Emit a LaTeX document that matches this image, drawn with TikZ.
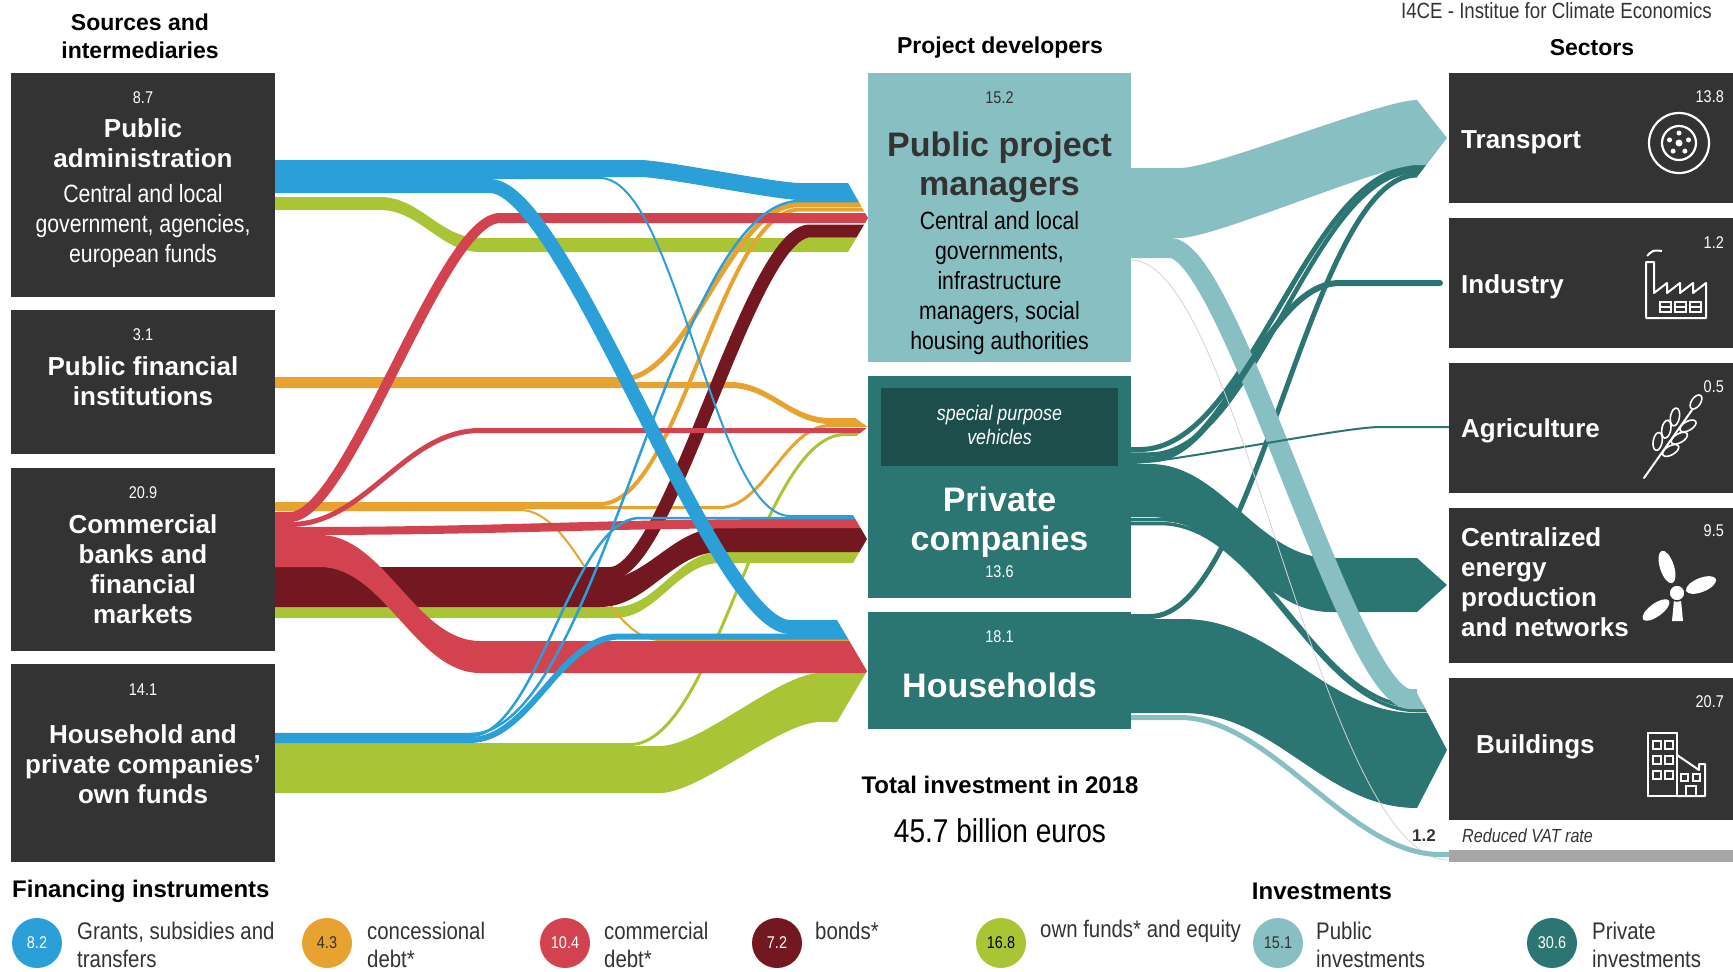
\documentclass[tikz,border=0pt]{standalone}
\usepackage{fontspec}
\setmainfont{Liberation Sans}
\newfontfamily\narrowf{Liberation Sans}[FakeStretch=0.85]
\usepackage{tikz}
\definecolor{grantblue}{HTML}{2A9FD8}
\definecolor{concorange}{HTML}{E8A230}
\definecolor{commred}{HTML}{D2434F}
\definecolor{bondred}{HTML}{731820}
\definecolor{ownfund}{HTML}{A9C536}
\definecolor{pubteal}{HTML}{88BFC2}
\definecolor{privteal}{HTML}{2B7572}
\definecolor{spvteal}{HTML}{1E4E4C}
\definecolor{boxgrey}{HTML}{333333}
\definecolor{vatgrey}{HTML}{A6A6A6}
\tikzstyle{Src}=[rectangle, fill=boxgrey, minimum width=264pt, inner sep=0pt]
\tikzstyle{Dev}=[rectangle, minimum width=263pt, inner sep=0pt]
\tikzstyle{Sec}=[rectangle, fill=boxgrey, minimum width=284pt, inner sep=0pt]
\tikzstyle{Num}=[text=white, font=\narrowf\fontsize{17}{20}\selectfont, inner sep=0pt]
\tikzstyle{Ttl}=[text=white, align=center, font=\bfseries\fontsize{26}{30}\selectfont, inner sep=0pt]
\tikzstyle{Sub}=[text=white, align=center, font=\narrowf\fontsize{25}{30}\selectfont, inner sep=0pt]
\tikzstyle{Big}=[text=white, align=center, font=\bfseries\fontsize{34}{39}\selectfont, inner sep=0pt]
\tikzstyle{Head}=[align=center, font=\bfseries\fontsize{23}{28}\selectfont, inner sep=0pt]
\tikzstyle{SecTtl}=[text=white, align=left, anchor=west, font=\bfseries\fontsize{26}{30}\selectfont, inner sep=0pt]
\tikzstyle{Dot}=[circle, minimum size=50pt, inner sep=0pt, font=\narrowf\fontsize{17}{20}\selectfont]
\tikzstyle{Key}=[anchor=west, align=left, font=\narrowf\fontsize{24}{28}\selectfont, inner sep=0pt, text=boxgrey]
% flow band: colour, x start, top, bottom, bend start, bend end, new top, new bottom, x end
\newcommand{\bendk}{0.4}
\newcommand{\band}[9]{%
  \pgfmathsetmacro\bca{#5+\bendk*(#6-#5)}%
  \pgfmathsetmacro\bcb{#6-\bendk*(#6-#5)}%
  \fill[#1] (#2,#3) -- (#5,#3) .. controls (\bca,#3) and (\bcb,#7) .. (#6,#7) -- (#9,#7)
    -- (#9,#8) -- (#6,#8) .. controls (\bcb,#8) and (\bca,#4) .. (#5,#4) -- (#2,#4) -- cycle;}
% steep stream: colour, width, x start, y, bend start, bend end, new y, x end
\newcommand{\stream}[8]{%
  \pgfmathsetmacro\bca{#5+\bendk*(#6-#5)}%
  \pgfmathsetmacro\bcb{#6-\bendk*(#6-#5)}%
  \draw[#1, line width=#2pt] (#3,#4) -- (#5,#4) .. controls (\bca,#4) and (\bcb,#7) .. (#6,#7) -- (#8,#7);}

\begin{document}
\begin{tikzpicture}[x=1pt, y=-1pt]
    \useasboundingbox (0,0) rectangle (1733,972);

    % financing flows
    \begin{scope}
    \clip (0,0) -- (837,0) -- (837,972) -- (0,972) -- cycle
      (836,183) -- (848,183) -- (868,218) -- (848,252) -- (836,252) -- cycle
      (836,418) -- (855,418) -- (868,427) -- (855,437) -- (836,437) -- cycle
      (836,515) -- (853,515) -- (867,539) -- (853,563) -- (836,563) -- cycle
      (836,620) -- (837,620) -- (867,671) -- (837,722) -- (836,722) -- cycle;
    \band{ownfund}{270}{197}{210}{380}{480}{238}{252}{870}
    \band{ownfund}{270}{607}{618}{615}{720}{552}{563}{870}
    \stream{ownfund}{3}{270}{744.5}{630}{845}{434.5}{870}
    \renewcommand{\bendk}{0.25}
    \band{ownfund}{270}{746}{793}{660}{820}{673}{722}{870}
    \renewcommand{\bendk}{0.4}
    \band{concorange}{270}{382}{388}{730}{830}{418}{424}{870}
    \stream{concorange}{5}{270}{379.5}{620}{800}{204.5}{870}
    \stream{concorange}{4}{270}{504}{600}{800}{209.5}{870}
    \stream{concorange}{3}{270}{507.5}{720}{830}{425.5}{870}
    \stream{concorange}{2}{270}{510}{520}{660}{640}{870}
    \band{bondred}{270}{580}{607}{600}{720}{528}{552}{870}
    \renewcommand{\bendk}{0.3}
    \stream{bondred}{13}{270}{573.5}{610}{810}{231}{870}
    \renewcommand{\bendk}{0.4}
    \band{commred}{270}{527}{535}{300}{800}{519}{528}{870}
    \band{commred}{270}{535}{567}{320}{480}{641}{673}{870}
    \stream{commred}{5}{270}{524.5}{290}{480}{430.5}{870}
    \renewcommand{\bendk}{0.28}
    \stream{commred}{10}{270}{517}{290}{500}{218}{870}
    \renewcommand{\bendk}{0.4}
    \stream{grantblue}{2}{270}{178}{600}{790}{516}{870}
    \stream{grantblue}{2.5}{270}{734}{470}{800}{201}{870}
    \stream{grantblue}{2.5}{270}{736}{470}{640}{518}{870}
    \stream{grantblue}{6}{270}{740}{470}{620}{636.5}{870}
    \renewcommand{\bendk}{0.25}
    \stream{grantblue}{14}{270}{186}{490}{790}{627}{870}
    \renewcommand{\bendk}{0.15}
    \band{grantblue}{270}{160}{177}{640}{800}{183}{200}{870}
    \end{scope}

    % investment flows
    \begin{scope}
    \clip (1120,0) -- (1417,0) -- (1417,972) -- (1120,972) -- cycle
      (1416,100) -- (1417,100) -- (1447,138) -- (1417,177) -- (1416,177) -- cycle
      (1416,558) -- (1417,558) -- (1447,585) -- (1417,612) -- (1416,612) -- cycle
      (1416,693) -- (1417,693) -- (1447,750) -- (1417,808) -- (1416,808) -- cycle;
    \renewcommand{\bendk}{0.4}
    \stream{privteal}{5}{1125}{449.5}{1140}{1417}{167}{1449}
    \stream{privteal}{4.5}{1125}{454.5}{1150}{1417}{171}{1449}
    \stream{privteal}{5}{1125}{616.5}{1150}{1417}{175}{1449}
    \band{privteal}{1125}{464}{517}{1150}{1330}{558}{612}{1449}
    \stream{privteal}{3.5}{1125}{519.5}{1160}{1417}{706.5}{1449}
    \stream{privteal}{3.5}{1125}{523.5}{1160}{1417}{710.5}{1449}
    \band{privteal}{1125}{619}{713}{1183}{1417}{713}{808}{1449}
    \renewcommand{\bendk}{0.25}
    \stream{pubteal}{20}{1125}{248}{1170}{1410}{699}{1449}
    \renewcommand{\bendk}{0.15}
    \band{pubteal}{1125}{168}{238}{1180}{1417}{100}{165}{1449}
    \end{scope}
    \renewcommand{\bendk}{0.4}
    \stream{privteal}{6}{1125}{459.5}{1150}{1340}{283}{1440}
    \fill[privteal] (1440,283) circle[radius=3pt];
    \renewcommand{\bendk}{0.15}
    \stream{privteal}{2}{1125}{463}{1131}{1380}{427}{1449}
    \renewcommand{\bendk}{0.35}
    \draw[vatgrey!50, line width=0.8pt] (1131,260) .. controls (1240,260) and (1320,860) .. (1449,860);
    \stream{pubteal}{5}{1125}{717.5}{1180}{1440}{854.5}{1449}

    % sources
    \path
    (143,185) node[Src, minimum height=224pt] (pa) {}
    (143,382) node[Src, minimum height=144pt] (pfi) {}
    (143,559.5) node[Src, minimum height=183pt] (cb) {}
    (143,763) node[Src, minimum height=198pt] (of) {};
    \path
    (140,36) node[Head] (srchead) {Sources and\\intermediaries}
    (143,98) node[Num] (panum) {8.7}
    (143,143) node[Ttl] (pattl) {Public\\administration}
    (143,226) node[Sub] (pasub) {Central and local\\government, agencies,\\european funds}
    (143,335) node[Num] (pfinum) {3.1}
    (143,381) node[Ttl] (pfittl) {Public financial\\institutions}
    (143,493) node[Num] (cbnum) {20.9}
    (143,569) node[Ttl] (cbttl) {Commercial\\banks and\\financial\\markets}
    (143,690) node[Num] (ofnum) {14.1}
    (143,764) node[Ttl] (ofttl) {Household and\\private companies'\\own funds};

    % project developers
    \path
    (999.5,217.5) node[Dev, fill=pubteal, minimum height=289pt] (ppm) {}
    (999.5,487) node[Dev, fill=privteal, minimum height=222pt] (pc) {}
    (999.5,427) node[rectangle, fill=spvteal, minimum width=237pt, minimum height=78pt] (spv) {}
    (999.5,670.5) node[Dev, fill=privteal, minimum height=117pt] (hh) {};
    \path
    (1000,48) node[Head] (devhead) {Project developers}
    (999.5,98) node[Num, text=boxgrey] (ppmnum) {15.2}
    (999.5,167) node[Big, text=boxgrey] (ppmttl) {Public project\\managers}
    (999.5,283) node[Sub, text=black] (ppmsub) {Central and local\\governments,\\infrastructure\\managers, social\\housing authorities}
    (999.5,425) node[Sub, font=\narrowf\itshape\fontsize{21}{24}\selectfont] (spvttl) {special purpose\\vehicles}
    (999.5,522) node[Big] (pcttl) {Private\\companies}
    (999.5,572) node[Num] (pcnum) {13.6}
    (999.5,637) node[Num] (hhnum) {18.1}
    (999.5,685) node[Big] (hhttl) {Households}
    (1000,785) node[Head, font=\bfseries\fontsize{24}{28}\selectfont] (total) {Total investment in 2018}
    (1000,831) node[font=\narrowf\fontsize{33}{36}\selectfont, inner sep=0pt] (amount) {45.7 billion euros};

    % sectors
    \path
    (1591,138) node[Sec, minimum height=130pt] (tr) {}
    (1591,283) node[Sec, minimum height=130pt] (ind) {}
    (1591,428) node[Sec, minimum height=130pt] (agr) {}
    (1591,585.5) node[Sec, minimum height=155pt] (en) {}
    (1591,749) node[Sec, minimum height=142pt] (bld) {};
    \fill[vatgrey] (1449,850) rectangle (1733,862);
    \path
    (1592,48) node[Head] (sechead) {Sectors}
    (1712,11) node[anchor=east, font=\narrowf\fontsize{22}{26}\selectfont, text=boxgrey, inner sep=0pt] (i4ce) {I4CE - Institue for Climate Economics}
    (1461,142) node[SecTtl] (trttl) {Transport}
    (1461,287) node[SecTtl] (indttl) {Industry}
    (1461,431) node[SecTtl] (agrttl) {Agriculture}
    (1461,582) node[SecTtl] (enttl) {Centralized\\energy\\production\\and networks}
    (1476,747) node[SecTtl] (bldttl) {Buildings}
    (1724,97) node[Num, anchor=east] (trnum) {13.8}
    (1724,243) node[Num, anchor=east] (indnum) {1.2}
    (1724,387) node[Num, anchor=east] (agrnum) {0.5}
    (1724,531) node[Num, anchor=east] (ennum) {9.5}
    (1724,702) node[Num, anchor=east] (bldnum) {20.7}
    (1436,836) node[anchor=east, font=\bfseries\fontsize{17}{20}\selectfont, text=boxgrey, inner sep=0pt] (vatnum) {1.2}
    (1462,836) node[anchor=west, font=\narrowf\itshape\fontsize{19}{22}\selectfont, text=boxgrey, inner sep=0pt] (vat) {Reduced VAT rate};

    % icons
    \draw[white, line width=2.2pt] (1679,143) circle[radius=30pt] (1679,143) circle[radius=17pt];
    \fill[white] (1679,143) circle[radius=3.5pt];
    \foreach \a in {18,90,162,234,306} \fill[white] (1679,143) ++(\a:10pt) circle[radius=2.5pt];
    \draw[white, line width=2pt, line join=round] (1646,318) -- (1646,262) -- (1654,262) -- (1654,293) -- (1667,283) -- (1667,293) -- (1680,283) -- (1680,293) -- (1693,283) -- (1693,293) -- (1706,283) -- (1706,318) -- cycle;
    \foreach \wx in {1660,1675,1690} \draw[white, line width=1.4pt] (\wx,302) rectangle ++(11,10) (\wx,307) -- ++(11,0);
    \draw[white, line width=2pt] (1647,256) .. controls (1653,250) .. (1662,251);
    \draw[white, line width=2pt, line cap=round] (1644,478) -- (1692,410);
    \foreach \t in {0.42,0.6,0.78} {
      \pgfmathsetmacro\gx{1644+48*\t}
      \pgfmathsetmacro\gy{478-68*\t}
      \draw[white, line width=1.6pt, rotate around={30:(\gx+6.5,\gy+1)}] (\gx+6.5,\gy+1) ellipse[x radius=9pt, y radius=4.5pt];
      \draw[white, line width=1.6pt, rotate around={80:(\gx-6.5,\gy-8)}] (\gx-6.5,\gy-8) ellipse[x radius=9pt, y radius=4.5pt];
    }
    \draw[white, line width=1.6pt, rotate around={55:(1696,402)}] (1696,402) ellipse[x radius=8pt, y radius=4.5pt];
    \fill[white, rotate around={18:(1667,567)}] (1667,567) ellipse[x radius=7pt, y radius=17pt];
    \fill[white, rotate around={22:(1701,585)}] (1701,585) ellipse[x radius=16pt, y radius=7pt];
    \fill[white, rotate around={36:(1656,610)}] (1656,610) ellipse[x radius=16pt, y radius=6.5pt];
    \fill[white] (1674,600) -- (1681,600) -- (1683,621) -- (1672,621) -- cycle;
    \filldraw[fill=white, draw=boxgrey, line width=1.5pt] (1677,593) circle[radius=8pt];
    \draw[white, line width=2pt] (1648,733) rectangle (1677,796);
    \foreach \wy in {741,756,771} \foreach \wx in {1653,1665} \draw[white, line width=1.4pt] (\wx,\wy) rectangle ++(8,8);
    \draw[white, line width=2pt, line join=round] (1677,755) -- (1699,770) -- (1699,764) -- (1705,764) -- (1705,796) -- (1677,796);
    \draw[white, line width=1.4pt] (1681,774) rectangle ++(7,7) (1693,774) rectangle ++(7,7);
    \draw[white, line width=1.6pt] (1686,796) -- (1686,786) -- (1696,786) -- (1696,796);

    % legend
    \path
    (12,891) node[anchor=west, font=\bfseries\fontsize{24}{28}\selectfont, inner sep=0pt] (fihead) {Financing instruments}
    (1322,891) node[Head, font=\bfseries\fontsize{24}{28}\selectfont] (invhead) {Investments}
    (37,943) node[Dot, fill=grantblue, text=white] (kgrant) {8.2}
    (327,943) node[Dot, fill=concorange, text=boxgrey] (kconc) {4.3}
    (565,943) node[Dot, fill=commred, text=white] (kcomm) {10.4}
    (777,943) node[Dot, fill=bondred, text=white] (kbond) {7.2}
    (1001,943) node[Dot, fill=ownfund, text=black] (kown) {16.8}
    (1278,943) node[Dot, fill=pubteal, text=boxgrey] (kpub) {15.1}
    (1552,943) node[Dot, fill=privteal, text=white] (kpriv) {30.6}
    (77,945) node[Key] (lgrant) {Grants, subsidies and\\transfers}
    (367,945) node[Key] (lconc) {concessional\\debt*}
    (604,945) node[Key] (lcomm) {commercial\\debt*}
    (815,931) node[Key] (lbond) {bonds*}
    (1040,931) node[Key] (lown) {own funds* and equity}
    (1316,945) node[Key] (lpub) {Public\\investments}
    (1592,945) node[Key] (lpriv) {Private\\investments};
\end{tikzpicture}
\end{document}
